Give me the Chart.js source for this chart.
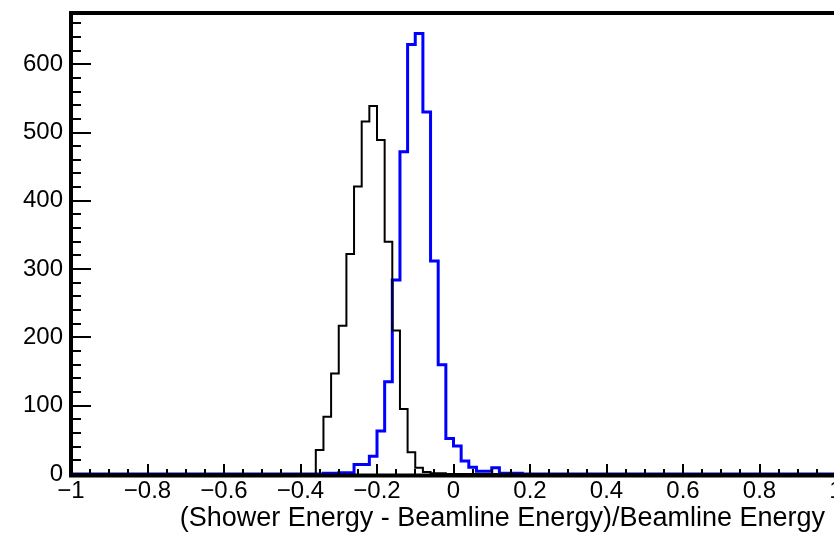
<!DOCTYPE html>
<html>
<head>
<meta charset="utf-8">
<script src="https://cdn.jsdelivr.net/npm/chart.js@4/dist/chart.umd.min.js"></script>
<style>
    html, body { margin: 0; padding: 0; background: #fff; overflow: hidden; }
    #wrap { width: 840px; height: 535px; }
</style>
</head>
<body>
<div id="wrap"><canvas id="chartHist" width="840" height="535"></canvas></div>
<script>
// histogram binning: 100 bins from -1 to 1
const binLow = -1;
const binWidth = 0.02;

// counts per bin (bin 0 = [-1, -0.98])
const blackCounts = [
    0, 0, 0, 0, 0, 0, 0, 0, 0, 0,
    0, 0, 0, 0, 0, 0, 0, 0, 0, 0,
    0, 0, 0, 0, 0, 0, 0, 0, 0, 0,
    0, 0, 35, 84, 147, 217, 322, 421, 516, 539,
    489, 340, 210, 95, 32, 9, 3, 1, 1, 0,
    0, 0, 0, 0, 0, 0, 0, 0, 0, 0,
    0, 0, 0, 0, 0, 0, 0, 0, 0, 0,
    0, 0, 0, 0, 0, 0, 0, 0, 0, 0,
    0, 0, 0, 0, 0, 0, 0, 0, 0, 0,
    0, 0, 0, 0, 0, 0, 0, 0, 0, 0
];
const blueCounts = [
    0, 0, 0, 0, 0, 0, 0, 0, 0, 0,
    0, 0, 0, 0, 0, 0, 0, 0, 0, 0,
    0, 0, 0, 0, 0, 0, 0, 0, 0, 0,
    0, 0, 0, 1, 1, 2, 2, 14, 14, 26,
    63, 135, 284, 472, 629, 645, 530, 312, 160, 52,
    41, 19, 10, 4, 4, 9, 1, 1, 1, 0,
    0, 0, 0, 0, 0, 0, 0, 0, 0, 0,
    0, 0, 0, 0, 0, 0, 0, 0, 0, 0,
    0, 0, 0, 0, 0, 0, 0, 0, 0, 0,
    0, 0, 0, 0, 0, 0, 0, 0, 0, 0
];

const xTicks = [-1, -0.8, -0.6, -0.4, -0.2, 0, 0.2, 0.4, 0.6, 0.8, 1];
const xTickLabels = ['\u22121', '\u22120.8', '\u22120.6', '\u22120.4', '\u22120.2', '0', '0.2', '0.4', '0.6', '0.8', '1'];
const yTicks = [0, 100, 200, 300, 400, 500, 600];
const yTickLabels = ['0', '100', '200', '300', '400', '500', '600'];
const xTitle = '(Shower Energy - Beamline Energy)/Beamline Energy';

const FONT = "'Liberation Sans', Arial, Helvetica, sans-serif";

// left bin edges + last right edge, for a stepped outline
function histPoints(counts) {
    var pts = [];
    for (var i = 0; i < counts.length; i++) {
        pts.push({x: binLow + i * binWidth, y: counts[i]});
    }
    pts.push({x: binLow + counts.length * binWidth, y: counts[counts.length - 1]});
    return pts;
}

// ROOT-like frame with ticks pointing inwards
const rootFrame = {
    id: 'rootFrame',
    afterDatasetsDraw(chart) {
        const ctx = chart.ctx;
        const a = chart.chartArea;
        const x = chart.scales.x;
        const y = chart.scales.y;
        ctx.save();
        ctx.strokeStyle = '#000';
        ctx.lineWidth = 2;

        // y ticks: major every 100, minor every 20
        for (var v = 0; v <= y.max; v += 20) {
            var py = Math.round(y.getPixelForValue(v));
            var len = (v % 100 === 0) ? 20 : 10;
            ctx.beginPath();
            ctx.moveTo(a.left, py);
            ctx.lineTo(a.left + len, py);
            ctx.stroke();
        }
        // x ticks: major every 0.2, minor every 0.05
        for (var k = -20; k <= 20; k++) {
            var px = Math.round(x.getPixelForValue(k * 0.05));
            var len2 = (k % 4 === 0) ? 10 : 5;
            ctx.beginPath();
            ctx.moveTo(px, a.bottom);
            ctx.lineTo(px, a.bottom - len2);
            ctx.stroke();
        }

        // frame
        ctx.lineWidth = 4;
        ctx.beginPath();
        ctx.moveTo(a.left - 2, a.top);
        ctx.lineTo(chart.width, a.top);
        ctx.moveTo(a.left, a.top - 2);
        ctx.lineTo(a.left, a.bottom + 3.5);
        ctx.moveTo(a.left - 2, a.bottom + 1.5);
        ctx.lineTo(chart.width, a.bottom + 1.5);
        ctx.stroke();

        // axis title, right aligned
        ctx.fillStyle = '#000';
        ctx.font = '27px ' + FONT;
        ctx.textAlign = 'right';
        ctx.textBaseline = 'alphabetic';
        ctx.fillText(xTitle, 825, 526);
        ctx.restore();
    }
};

const ctx = document.getElementById('chartHist');
const config = {
    type: 'line',
    data: {
        datasets: [{
            label: 'black',
            data: histPoints(blackCounts),
            borderColor: 'rgb(0,0,0)',
            borderWidth: 2,
            stepped: 'before',
            pointRadius: 0,
            fill: false,
            order: 1
        }, {
            label: 'blue',
            data: histPoints(blueCounts),
            borderColor: 'rgb(0,0,255)',
            borderWidth: 3,
            stepped: 'before',
            pointRadius: 0,
            fill: false,
            order: 2
        }]
    },
    options: {
        responsive: false,
        animation: false,
        devicePixelRatio: 1,
        layout: {
            padding: {top: 13, right: 4, left: 0, bottom: 0}
        },
        plugins: {
            legend: {display: false},
            tooltip: {enabled: false}
        },
        scales: {
            x: {
                type: 'linear',
                min: -1,
                max: 1,
                grid: {display: false, drawTicks: false},
                border: {display: false},
                afterBuildTicks: function (s) {
                    s.ticks = xTicks.map(function (v) { return {value: v}; });
                },
                afterFit: function (s) {
                    s.height = 61;
                    s.paddingLeft = 0;
                    s.paddingRight = 0;
                },
                ticks: {
                    autoSkip: false,
                    maxRotation: 0,
                    padding: 3,
                    color: '#000',
                    font: {family: FONT, size: 24},
                    callback: function (value, index) { return xTickLabels[index]; }
                }
            },
            y: {
                min: 0,
                max: 675,
                grid: {display: false, drawTicks: false},
                border: {display: false},
                afterBuildTicks: function (s) {
                    s.ticks = yTicks.map(function (v) { return {value: v}; });
                },
                afterFit: function (s) {
                    s.width = 71;
                    s.paddingTop = 0;
                    s.paddingBottom = 0;
                },
                ticks: {
                    padding: 8,
                    color: '#000',
                    font: {family: FONT, size: 24},
                    callback: function (value, index) { return yTickLabels[index]; }
                }
            }
        }
    },
    plugins: [rootFrame]
};
const myChart = new Chart(ctx, config);
</script>
</body>
</html>
